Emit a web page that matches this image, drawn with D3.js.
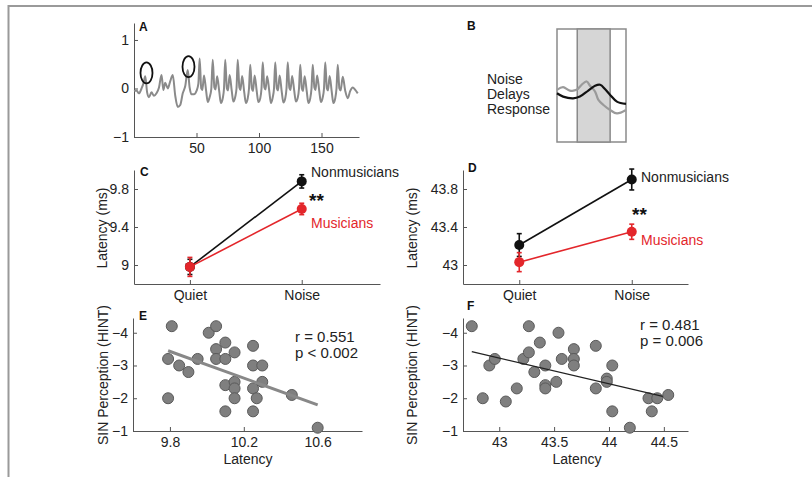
<!DOCTYPE html>
<html>
<head>
<meta charset="utf-8">
<script src="https://cdn.jsdelivr.net/npm/d3@7"></script>
<style>
  body { margin: 0; background: #fff; }
  svg { display: block; font-family: Arial, "Liberation Sans", sans-serif; }
  .tick text { font-size: 14px; fill: #222; }
  .domain, .tick line { stroke: #555; stroke-width: 1; }
</style>
</head>
<body>
<svg id="fig" width="812" height="477"></svg>
<script>
// A: speech-evoked response, vertices [ms, amplitude]
const waveA = [
  [0,-0.05],[2,-0.04],[4,-0.1],[6,0.0],[7.5,0.1],[9,0.25],[10.5,-0.08],[12,-0.18],[14,-0.08],[16,-0.15],
  [18,-0.1],[20,0.02],[22,0.28],[23.5,-0.03],[25,0.12],[27,0.0],[29,0.15],[31,0.28],[33,-0.15],[35,-0.38],
  [37,-0.34],[39,-0.1],[41,0.05],[43,0.38],[44.5,0.02],[46,-0.12],[48,-0.12],[50,-0.05],[51.5,0.1],
  [52.5,0.62],[53.8,0.0],[54.7,-0.03],[56,0.27],[57.7,-0.05],[59,-0.28],[60.5,-0.18],[61.8,-0.02],
  [63,0.59],[64.3,0.02],[65.2,-0.02],[66.5,0.25],[68.2,-0.06],[69.5,-0.3],[71,-0.2],[72,0.0],
  [73,0.59],[74.3,0.0],[75.2,-0.04],[76.5,0.28],[78.2,-0.05],[79.5,-0.27],[81,-0.17],[82,0.0],
  [83,0.59],[84.3,0.02],[85.2,-0.03],[86.5,0.26],[88.2,-0.08],[89.5,-0.3],[91,-0.2],[92,0.0],
  [93,0.49],[94.3,0.0],[95.2,-0.05],[96.5,0.27],[98.2,-0.06],[99.5,-0.28],[101,-0.2],[102,0.0],
  [103,0.54],[104.3,0.02],[105.2,-0.02],[106.5,0.25],[108.2,-0.05],[109.5,-0.3],[111,-0.18],[112,0.0],
  [113,0.54],[114.3,0.0],[115.2,-0.04],[116.5,0.27],[118.2,-0.07],[119.5,-0.29],[121,-0.2],[122,0.0],
  [123,0.54],[124.3,0.01],[125.2,-0.03],[126.5,0.26],[128.2,-0.05],[129.5,-0.27],[131,-0.19],[132,0.0],
  [133,0.49],[134.3,0.0],[135.2,-0.05],[136.5,0.25],[138.2,-0.06],[139.5,-0.3],[141,-0.2],[142,0.0],
  [143,0.49],[144.3,0.02],[145.2,-0.03],[146.5,0.27],[148.2,-0.05],[149.5,-0.28],[151,-0.18],[152,0.0],
  [153,0.54],[154.3,0.0],[155.2,-0.04],[156.5,0.26],[158.2,-0.07],[159.5,-0.3],[161,-0.2],[162,0.0],
  [163,0.49],[164.3,0.0],[165.3,-0.04],[167,0.24],[169,-0.05],[171,-0.2],[173,-0.05],[175,0.02],
  [177,-0.03],[179,-0.1]
];
const markedPeaks = [[10, 0.32], [43.6, 0.45]];

// B: zoomed responses, quiet (gray) vs noise (black)
const bQuiet = [[0,0.67],[5.3,0.93],[11.1,0.6],[17,0.67],[21.4,1.17],[25.8,1.5],[28.7,1.07],[33.1,0.5],
  [36,-0.33],[40.4,-0.83],[46.2,-1.33],[52.1,-1.67],[60,-1.33]];
const bNoise = [[0,0.33],[5.3,0.0],[14,-0.17],[19.9,0.0],[27.2,0.6],[33.1,1.07],[37.5,1.17],[41.9,0.73],
  [46.2,0.17],[52.1,-0.5],[60,-0.73]];
const bWindow = [17.6, 46.2];
const bWords = ["Noise", "Delays", "Response"];

// C / D: latency means and error bars
const conditions = ["Quiet", "Noise"];
const cNonMean = [8.98, 9.88], cNonErr = [0.08, 0.07];
const cMusMean = [8.98, 9.59], cMusErr = [0.1, 0.06];
const dNonMean = [43.21, 43.90], dNonErr = [0.12, 0.11];
const dMusMean = [43.03, 43.35], dMusErr = [0.1, 0.08];

// E / F: latency vs HINT
const eLatency = [9.81,9.79,9.79,9.85,9.90,9.95,10.01,10.05,10.05,10.05,10.10,10.10,10.10,10.10,
  10.15,10.15,10.15,10.15,10.25,10.25,10.25,10.27,10.25,10.30,10.30,10.46,10.60];
const eHint = [-4.2,-3.2,-2.0,-3.0,-2.8,-3.2,-4.0,-4.2,-3.5,-3.2,-3.7,-3.2,-2.4,-1.6,
  -3.4,-2.5,-2.3,-2.0,-3.6,-3.0,-2.3,-2.0,-1.6,-3.0,-2.5,-2.1,-1.1];
const eFit = [[9.79, -3.45], [10.6, -1.8]];
const fLatency = [42.75,42.85,42.91,42.96,43.06,43.16,43.22,43.27,43.27,43.32,43.37,43.42,43.42,43.42,
  43.52,43.54,43.57,43.68,43.68,43.68,43.88,43.88,43.98,43.98,44.03,44.03,44.19,44.36,44.39,44.44,44.54];
const fHint = [-4.2,-2.0,-3.0,-3.2,-1.9,-2.3,-3.2,-3.4,-4.2,-2.8,-3.7,-3.0,-2.4,-2.3,
  -2.5,-4.0,-3.2,-3.5,-3.2,-3.0,-3.6,-2.3,-2.6,-2.5,-3.0,-1.6,-1.1,-2.0,-1.6,-2.0,-2.1];
const fFit = [[42.75, -3.42], [44.49, -2.06]];

const RED = "#e3262b";
const svg = d3.select("#fig");

// frame
svg.append("path").attr("d", "M8.5,477V6H812").attr("fill", "none")
  .attr("stroke", "#9a9a9a").attr("stroke-width", 2);

function axes(x, y, xTicks, yTicks, xFmt, yFmt) {
  const g = svg.append("g");
  g.append("g").attr("transform", `translate(0,${y.range()[0]})`)
    .call(d3.axisBottom(x).tickValues(xTicks).tickFormat(xFmt)
      .tickSizeInner(-4).tickSizeOuter(0).tickPadding(6));
  g.append("g").attr("transform", `translate(${x.range()[0]},0)`)
    .call(d3.axisLeft(y).tickValues(yTicks).tickFormat(yFmt)
      .tickSizeInner(-4).tickSizeOuter(0).tickPadding(5));
  return g;
}

function letter(t, x, y) {
  svg.append("text").attr("x", x).attr("y", y).attr("font-size", 12)
    .attr("font-weight", "bold").attr("fill", "#111").text(t);
}

function text(t, x, y, opts = {}) {
  const el = svg.append("text").attr("x", x).attr("y", y)
    .attr("font-size", opts.size || 14).attr("fill", opts.color || "#222")
    .attr("font-weight", opts.weight || "normal")
    .attr("text-anchor", opts.anchor || "start").text(t);
  if (opts.rotate) el.attr("x", null).attr("y", null)
    .attr("transform", `translate(${x},${y}) rotate(-90)`);
  return el;
}

// ---- A ----
{
  const x = d3.scaleLinear([0, 180], [134, 359]);
  const y = d3.scaleLinear([-1, 1.35], [137, 23]);
  axes(x, y, [50, 100, 150], [-1, 0, 1], d3.format("d"), d3.format("d"));
  svg.append("path").datum(waveA)
    .attr("d", d3.line().x(d => x(d[0])).y(d => y(d[1])).curve(d3.curveMonotoneX))
    .attr("fill", "none").attr("stroke", "#8a8a8a").attr("stroke-width", 2);
  svg.selectAll(".peak").data(markedPeaks).join("ellipse")
    .attr("cx", d => x(d[0])).attr("cy", d => y(d[1])).attr("rx", 6).attr("ry", 10.5)
    .attr("fill", "none").attr("stroke", "#111").attr("stroke-width", 1.8);
  letter("A", 139, 31);
}

// ---- B ----
{
  const x = d3.scaleLinear([0, 60], [557, 626]);
  const y = d3.scaleLinear([-4.5, 6.7], [142, 29]);
  svg.append("rect").attr("x", x(0)).attr("y", y(6.7)).attr("width", x(60) - x(0))
    .attr("height", y(-4.5) - y(6.7)).attr("fill", "#fff").attr("stroke", "#8a8a8a").attr("stroke-width", 1.5);
  svg.append("rect").attr("x", x(bWindow[0])).attr("y", y(6.7))
    .attr("width", x(bWindow[1]) - x(bWindow[0])).attr("height", y(-4.5) - y(6.7))
    .attr("fill", "#d6d6d6").attr("stroke", "#8a8a8a").attr("stroke-width", 1.5);
  const line = d3.line().x(d => x(d[0])).y(d => y(d[1])).curve(d3.curveCatmullRom);
  svg.append("path").datum(bQuiet).attr("d", line).attr("fill", "none")
    .attr("stroke", "#9a9a9a").attr("stroke-width", 2.2);
  svg.append("path").datum(bNoise).attr("d", line).attr("fill", "none")
    .attr("stroke", "#111").attr("stroke-width", 2.2);
  bWords.forEach((w, i) => text(w, 487, 84 + i * 15));
  letter("B", 467, 30);
}

// ---- C / D ----
function latencyPanel(x, y, yTicks, nonMean, nonErr, musMean, musErr) {
  axes(x, y, [1, 2], yTicks, (d, i) => conditions[i], d3.format("~g"));
  const series = [
    { mean: nonMean, err: nonErr, color: "#111" },
    { mean: musMean, err: musErr, color: RED },
  ];
  series.forEach(s => {
    const pts = s.mean.map((m, i) => ({ c: i + 1, m, e: s.err[i] }));
    svg.append("path").datum(pts)
      .attr("d", d3.line().x(d => x(d.c)).y(d => y(d.m)))
      .attr("fill", "none").attr("stroke", s.color).attr("stroke-width", 1.6);
    const g = svg.append("g").attr("stroke", s.color).attr("stroke-width", 1.6);
    pts.forEach(d => {
      g.append("line").attr("x1", x(d.c)).attr("x2", x(d.c))
        .attr("y1", y(d.m - d.e)).attr("y2", y(d.m + d.e));
      [d.m - d.e, d.m + d.e].forEach(v => g.append("line")
        .attr("x1", x(d.c) - 2.5).attr("x2", x(d.c) + 2.5).attr("y1", y(v)).attr("y2", y(v)));
    });
    svg.append("g").selectAll("circle").data(pts).join("circle")
      .attr("cx", d => x(d.c)).attr("cy", d => y(d.m)).attr("r", 5).attr("fill", s.color);
  });
}

{
  const x = d3.scaleLinear([0.5, 2.7], [134, 380]);
  const y = d3.scaleLinear([8.8, 10], [284, 170]);
  latencyPanel(x, y, [9, 9.4, 9.8], cNonMean, cNonErr, cMusMean, cMusErr);
  text("Nonmusicians", 311, 177);
  text("**", 309, 207, { size: 19, color: "#111", weight: "bold" });
  text("Musicians", 311, 228, { color: RED });
  text("Latency (ms)", 107, 228, { rotate: true, anchor: "middle" });
  letter("C", 140, 176);
}
{
  const x = d3.scaleLinear([0.5, 2.5], [463, 688]);
  const y = d3.scaleLinear([42.8, 44], [284, 170]);
  latencyPanel(x, y, [43, 43.4, 43.8], dNonMean, dNonErr, dMusMean, dMusErr);
  text("Nonmusicians", 641, 182);
  text("**", 632, 221, { size: 19, color: "#111", weight: "bold" });
  text("Musicians", 641, 245, { color: RED });
  text("Latency (ms)", 417, 228, { rotate: true, anchor: "middle" });
  letter("D", 468, 172);
}

// ---- E / F ----
function scatterPanel(x, y, xTicks, lat, hint, fit, fitColor, fitWidth) {
  axes(x, y, xTicks, [-4, -3, -2, -1], d3.format("~g"), d3.format("d"));
  svg.append("g").selectAll("circle").data(lat.map((l, i) => [l, hint[i]])).join("circle")
    .attr("cx", d => x(d[0])).attr("cy", d => y(d[1])).attr("r", 5.5)
    .attr("fill", "#7f7f7f").attr("stroke", "#5a5a5a").attr("stroke-width", 1);
  svg.append("path").datum(fit).attr("d", d3.line().x(d => x(d[0])).y(d => y(d[1])))
    .attr("stroke", fitColor).attr("stroke-width", fitWidth);
}

{
  const x = d3.scaleLinear([9.6, 10.84], [133, 362]);
  const y = d3.scaleLinear([-1, -4.45], [431, 318]);
  scatterPanel(x, y, [9.8, 10.2, 10.6], eLatency, eHint, eFit, "#888", 3);
  text("r = 0.551", 295, 342, { size: 15 });
  text("p < 0.002", 295, 358, { size: 15 });
  text("SIN Perception (HINT)", 108, 375, { rotate: true, anchor: "middle" });
  text("Latency", 248, 464, { anchor: "middle" });
  letter("E", 139, 320);
}
{
  const x = d3.scaleLinear([42.67, 44.72], [463, 688]);
  const y = d3.scaleLinear([-1, -4.45], [431, 318]);
  scatterPanel(x, y, [43, 43.5, 44, 44.5], fLatency, fHint, fFit, "#222", 1.3);
  text("r = 0.481", 640, 330, { size: 15 });
  text("p = 0.006", 640, 346, { size: 15 });
  text("SIN Perception (HINT)", 417, 375, { rotate: true, anchor: "middle" });
  text("Latency", 577, 464, { anchor: "middle" });
  letter("F", 467, 310);
}
</script>
</body>
</html>
